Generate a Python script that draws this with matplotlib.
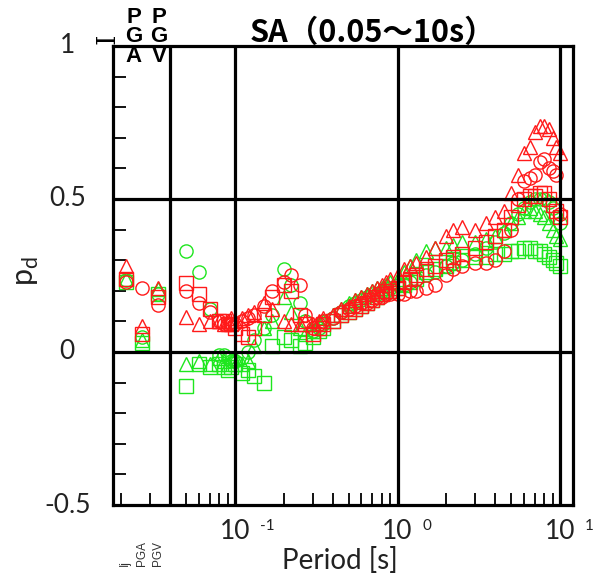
import matplotlib
matplotlib.use("Agg")
import matplotlib.pyplot as plt
import matplotlib.transforms as mtransforms
from matplotlib.ticker import FixedLocator, NullFormatter
import numpy as np

# categories on the left (intensity measures), then the spectral periods
categories = ["Ij", "PGA", "PGV"]
periods = [0.05, 0.06, 0.07, 0.08, 0.085, 0.09, 0.095, 0.1,
           0.11, 0.12, 0.13, 0.15, 0.17, 0.2, 0.22, 0.25, 0.27, 0.3,
           0.33, 0.35, 0.4, 0.45, 0.5, 0.55, 0.6, 0.65, 0.7, 0.75,
           0.8, 0.85, 0.9, 1.0, 1.1, 1.2, 1.3, 1.5, 1.7, 2.0,
           2.2, 2.5, 3.0, 3.5, 4.0, 4.5, 5.0, 5.5, 6.0, 6.5,
           7.0, 7.5, 8.0, 8.5, 9.0, 9.5, 10.0]

# red series
red_circle_cat = [0.23, 0.21, 0.155]
red_circle = [0.20, 0.16, 0.13, 0.10, 0.09, 0.09, 0.09, 0.09,
              0.10, 0.11, 0.12, 0.15, 0.20, 0.23, 0.25, 0.22, 0.12, 0.08,
              0.09, 0.10, 0.11, 0.13, 0.14, 0.15, 0.16, 0.16, 0.17, 0.18,
              0.18, 0.19, 0.19, 0.19, 0.19, 0.20, 0.20, 0.21, 0.22, 0.25,
              0.27, 0.28, 0.29, 0.29, 0.30, 0.33, 0.40, 0.50, 0.56, 0.57,
              0.58, 0.62, 0.63, 0.60, 0.59, 0.58, 0.45]
red_triangle_cat = [0.28, 0.085, 0.21]
red_triangle = [0.115, 0.09, 0.10, 0.10, 0.09, 0.10, 0.11, 0.10,
                0.11, 0.12, 0.13, 0.16, 0.14, 0.10, 0.09, 0.09, 0.10, 0.09,
                0.10, 0.11, 0.12, 0.14, 0.15, 0.17, 0.18, 0.19, 0.20, 0.21,
                0.22, 0.23, 0.24, 0.25, 0.27, 0.28, 0.29, 0.31, 0.34, 0.38,
                0.40, 0.41, 0.40, 0.42, 0.44, 0.46, 0.52, 0.58, 0.65, 0.67,
                0.72, 0.74, 0.74, 0.73, 0.70, 0.67, 0.65]
red_square_cat = [0.24, 0.06, 0.18]
red_square = [0.225, 0.19, 0.14, 0.10, 0.10, 0.09, 0.09, 0.08,
              0.06, 0.05, 0.08, 0.12, 0.18, 0.22, 0.20, 0.12, 0.09, 0.06,
              0.08, 0.09, 0.10, 0.12, 0.13, 0.14, 0.15, 0.16, 0.17, 0.18,
              0.19, 0.20, 0.20, 0.21, 0.23, 0.24, 0.25, 0.27, 0.28, 0.30,
              0.31, 0.32, 0.34, 0.36, 0.38, 0.40, 0.44, 0.48, 0.50, 0.51,
              0.51, 0.52, 0.52, 0.50, 0.48, 0.46, 0.44]

# green series
green_circle_cat = [0.235, 0.05, 0.19]
green_circle = [0.33, 0.26, 0.14, -0.01, -0.01, -0.02, -0.03, -0.03,
                -0.02, 0.00, 0.04, 0.08, 0.12, 0.27, 0.22, 0.16, 0.10, 0.07,
                0.08, 0.09, 0.11, 0.13, 0.15, 0.16, 0.17, 0.18, 0.19, 0.19,
                0.20, 0.20, 0.21, 0.22, 0.22, 0.23, 0.24, 0.25, 0.26, 0.28,
                0.29, 0.30, 0.32, 0.34, 0.36, 0.39, 0.42, 0.45, 0.47, 0.49,
                0.50, 0.50, 0.50, 0.49, 0.47, 0.44, 0.42]
green_triangle_cat = [0.24, 0.04, 0.205]
green_triangle = [-0.04, -0.03, -0.04, -0.02, -0.03, -0.04, -0.02, -0.02,
                  -0.04, -0.03, 0.02, 0.08, 0.10, 0.18, 0.13, 0.08, 0.06, 0.07,
                  0.09, 0.10, 0.12, 0.14, 0.16, 0.17, 0.18, 0.19, 0.20, 0.21,
                  0.21, 0.22, 0.23, 0.24, 0.26, 0.28, 0.30, 0.33, 0.34, 0.34,
                  0.35, 0.36, 0.36, 0.37, 0.38, 0.40, 0.42, 0.44, 0.46, 0.47,
                  0.46, 0.45, 0.44, 0.42, 0.40, 0.38, 0.37]
green_square_cat = [0.23, 0.03, 0.19]
green_square = [-0.11, -0.04, -0.05, -0.04, -0.05, -0.06, -0.05, -0.04,
                -0.07, -0.06, -0.08, -0.10, 0.02, 0.05, 0.04, 0.02, 0.03, 0.05,
                0.07, 0.08, 0.10, 0.12, 0.13, 0.14, 0.15, 0.16, 0.17, 0.18,
                0.19, 0.20, 0.20, 0.21, 0.22, 0.23, 0.24, 0.26, 0.27, 0.28,
                0.29, 0.30, 0.31, 0.31, 0.32, 0.32, 0.33, 0.33, 0.34, 0.34,
                0.33, 0.33, 0.32, 0.31, 0.30, 0.29, 0.28]

y_ticks = [-0.5, 0, 0.5, 1]
y_ticklabels = ["-0.5", "0", "0.5", "1"]
title = "SA（0.05～10s）"

# where the three categories sit on the log axis (left of the separator)
cat_pos = [0.0213, 0.0268, 0.0336]

RED = "#ff1a1a"
GREEN = "#1ee61e"

fig = plt.figure(figsize=(5.97, 5.82), dpi=100)
ax = fig.add_axes([0.1893, 0.1323, 0.7705, 0.7887])
ax.set_xscale("log")
ax.set_xlim(0.01774, 12.02)
ax.set_ylim(-0.5, 1.0)

series = [
    (green_square_cat, green_square, "s", GREEN),
    (green_triangle_cat, green_triangle, "^", GREEN),
    (green_circle_cat, green_circle, "o", GREEN),
    (red_square_cat, red_square, "s", RED),
    (red_triangle_cat, red_triangle, "^", RED),
    (red_circle_cat, red_circle, "o", RED),
]
for cat_vals, vals, mk, col in series:
    ax.plot(cat_pos, cat_vals, mk, mfc="none", mec=col, ms=9.5, mew=1.0)
    ax.plot(periods, vals, mk, mfc="none", mec=col, ms=9.5, mew=1.0)

# thick reference lines
for yv in [0, 0.5]:
    ax.axhline(yv, color="black", lw=2.3, zorder=3)
for xv in [0.04, 0.1, 1, 10]:
    ax.axvline(xv, color="black", lw=2.3, zorder=3)

for s in ax.spines.values():
    s.set_linewidth(2.3)

# ticks
ax.xaxis.set_major_locator(FixedLocator([0.1, 1, 10]))
minors = [m * 10.0**e for e in (-2, -1, 0) for m in range(2, 10)]
minors = [v for v in minors if v != 0.04]
ax.xaxis.set_minor_locator(FixedLocator(minors))
ax.xaxis.set_major_formatter(NullFormatter())
ax.xaxis.set_minor_formatter(NullFormatter())
ax.yaxis.set_major_locator(FixedLocator(y_ticks))
ax.yaxis.set_major_formatter(NullFormatter())
ax.yaxis.set_minor_locator(FixedLocator(np.round(np.arange(-0.4, 1.0, 0.1), 2)))
ax.tick_params(axis="both", which="major", length=0)
ax.tick_params(axis="both", which="minor", direction="in", length=9, width=1.3)
ax.tick_params(top=False, right=False, which="both")

# y tick labels, centred in a column left of the axis
ytrans = mtransforms.blended_transform_factory(ax.transAxes, ax.transData)
for yv, lab in zip(y_ticks, y_ticklabels):
    ax.annotate(lab, xy=(0, yv), xycoords=ytrans, xytext=(-33, 0),
                textcoords="offset points", ha="center", va="center",
                fontsize=19, family="Lato", color="#222222", annotation_clip=False)

# x tick labels as 10 with a detached exponent
trans = mtransforms.blended_transform_factory(ax.transData, ax.transAxes)
for xv, ex in [(0.1, "-1"), (1, "0"), (10, "1")]:
    ax.annotate("10", xy=(xv, 0), xycoords=trans, xytext=(0, -10),
                textcoords="offset points", ha="center", va="top",
                fontsize=19, family="Lato", color="#222222", annotation_clip=False)
    ax.annotate(ex, xy=(xv, 0), xycoords=trans, xytext=(18, -10),
                textcoords="offset points", ha="left", va="top",
                fontsize=11, family="Lato", color="#222222", annotation_clip=False)

fig.text(0.57, 0.014, "Period [s]", ha="center", va="bottom", fontsize=20,
         family="Lato", color="#222222")
fig.text(0.045, 0.535, r"p$_\mathregular{d}$", rotation=90, ha="center", va="center",
         fontsize=22, family="Lato", color="#222222")

fig.text(372 / 597, 0.944, title, ha="center", va="center", fontsize=22,
         fontweight="bold", family=["Noto Sans CJK JP", "DejaVu Sans"])

# category labels above the axes, stacked letters
fig.text(107 / 597, 1 - 39 / 582, "I", rotation=90, ha="center", va="center",
         fontsize=19, family="DejaVu Serif")
for xp, lab in [(134, categories[1]), (159, categories[2])]:
    fig.text(xp / 597, 1 - 37 / 582, "\n".join(lab), ha="center", va="center",
             fontsize=16, fontweight="bold", linespacing=0.9,
             family="Liberation Sans")

# small rotated category labels under the axes
for xp, lab in zip([125, 142, 158], categories):
    fig.text(xp / 597, 1 - 566 / 582, lab, rotation=90, ha="center", va="bottom",
             fontsize=8.5, family="Liberation Sans", color="#333333")

fig.savefig("out.png", dpi=100)
